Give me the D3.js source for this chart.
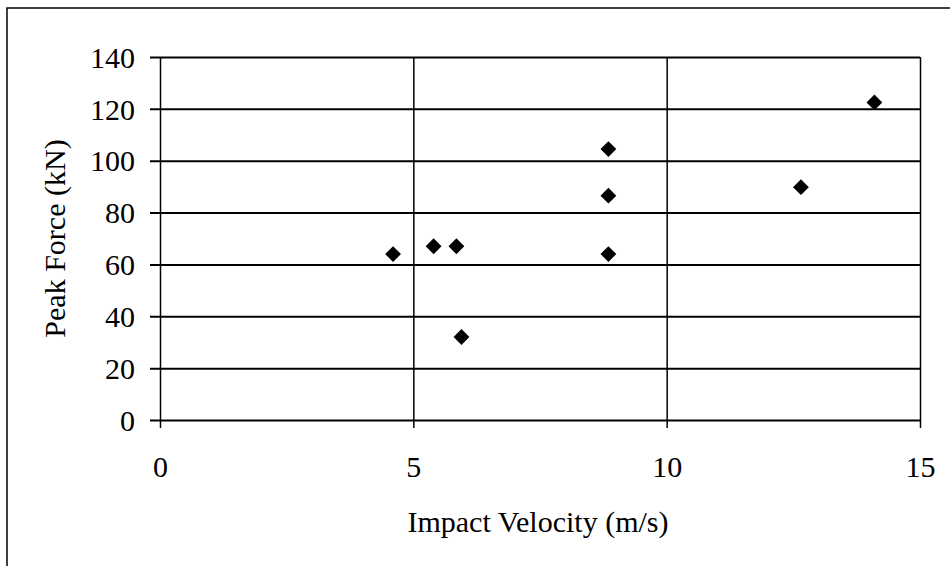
<!DOCTYPE html>
<html>
<head>
<meta charset="utf-8">
<script src="https://cdn.jsdelivr.net/npm/d3@7"></script>
<style>
  body { margin: 0; background: #fff; }
  svg { display: block; }
  svg text { font-family: "Liberation Serif", "DejaVu Serif", serif; fill: #000; }
</style>
</head>
<body>
<div id="chart"></div>
<script>
// Data.
const velocity = [4.6, 5.4, 5.85, 5.95, 8.85, 8.85, 8.85, 12.65, 14.1];
const peakForce = [64, 67, 67, 32, 64, 86.5, 104.5, 89.8, 122.5];
const xTicks = [0, 5, 10, 15];
const yTicks = [0, 20, 40, 60, 80, 100, 120, 140];

const width = 950, height = 566;
const margin = { top: 57, right: 30, bottom: 146, left: 160 };
const plotW = width - margin.left - margin.right;
const plotH = height - margin.top - margin.bottom;

const svg = d3.select('#chart').append('svg')
  .attr('width', width)
  .attr('height', height);

// Outer frame (only top and left edges are visible in the picture).
svg.append('path')
  .attr('d', `M7,${height} V8 H${width}`)
  .attr('fill', 'none')
  .attr('stroke', '#000')
  .attr('stroke-width', 1.5);

const x = d3.scaleLinear().domain([0, 15]).range([margin.left, width - margin.right]);
const y = d3.scaleLinear().domain([0, 140]).range([height - margin.bottom, margin.top]);

// Horizontal gridlines with small ticks to the left.
svg.append('g')
  .attr('transform', `translate(${margin.left},0)`)
  .call(d3.axisLeft(y).tickValues(yTicks).tickSizeOuter(0))
  .call(g => g.select('.domain').remove())
  .call(g => g.selectAll('.tick line')
    .attr('x1', -10)
    .attr('x2', plotW)
    .attr('stroke', '#000').attr('stroke-width', 2))
  .call(g => g.selectAll('.tick text')
    .attr('font-size', 30).attr('x', -25).attr('dy', '0.34em'));

// Vertical gridlines with small ticks below.
svg.append('g')
  .attr('transform', `translate(0,${height - margin.bottom})`)
  .call(d3.axisBottom(x).tickValues(xTicks).tickSizeOuter(0))
  .call(g => g.select('.domain').remove())
  .call(g => g.selectAll('.tick line')
    .attr('y1', -plotH)
    .attr('y2', 8)
    .attr('stroke', '#000').attr('stroke-width', 1.5))
  .call(g => g.selectAll('.tick text')
    .attr('font-size', 30).attr('y', 57).attr('dy', 0));

// Axis titles.
svg.append('text')
  .attr('x', 538)
  .attr('y', 532)
  .attr('text-anchor', 'middle')
  .attr('font-size', 30)
  .text('Impact Velocity (m/s)');

svg.append('text')
  .attr('transform', `translate(65,${margin.top + plotH / 2}) rotate(-90)`)
  .attr('text-anchor', 'middle')
  .attr('font-size', 30)
  .text('Peak Force (kN)');

// Diamond markers.
const diamond = d3.symbol().type(d3.symbolSquare).size(125);
svg.append('g')
  .selectAll('path')
  .data(velocity.map((v, i) => [v, peakForce[i]]))
  .join('path')
  .attr('d', diamond)
  .attr('transform', d => `translate(${x(d[0])},${y(d[1])}) rotate(45)`)
  .attr('fill', '#000');
</script>
</body>
</html>
